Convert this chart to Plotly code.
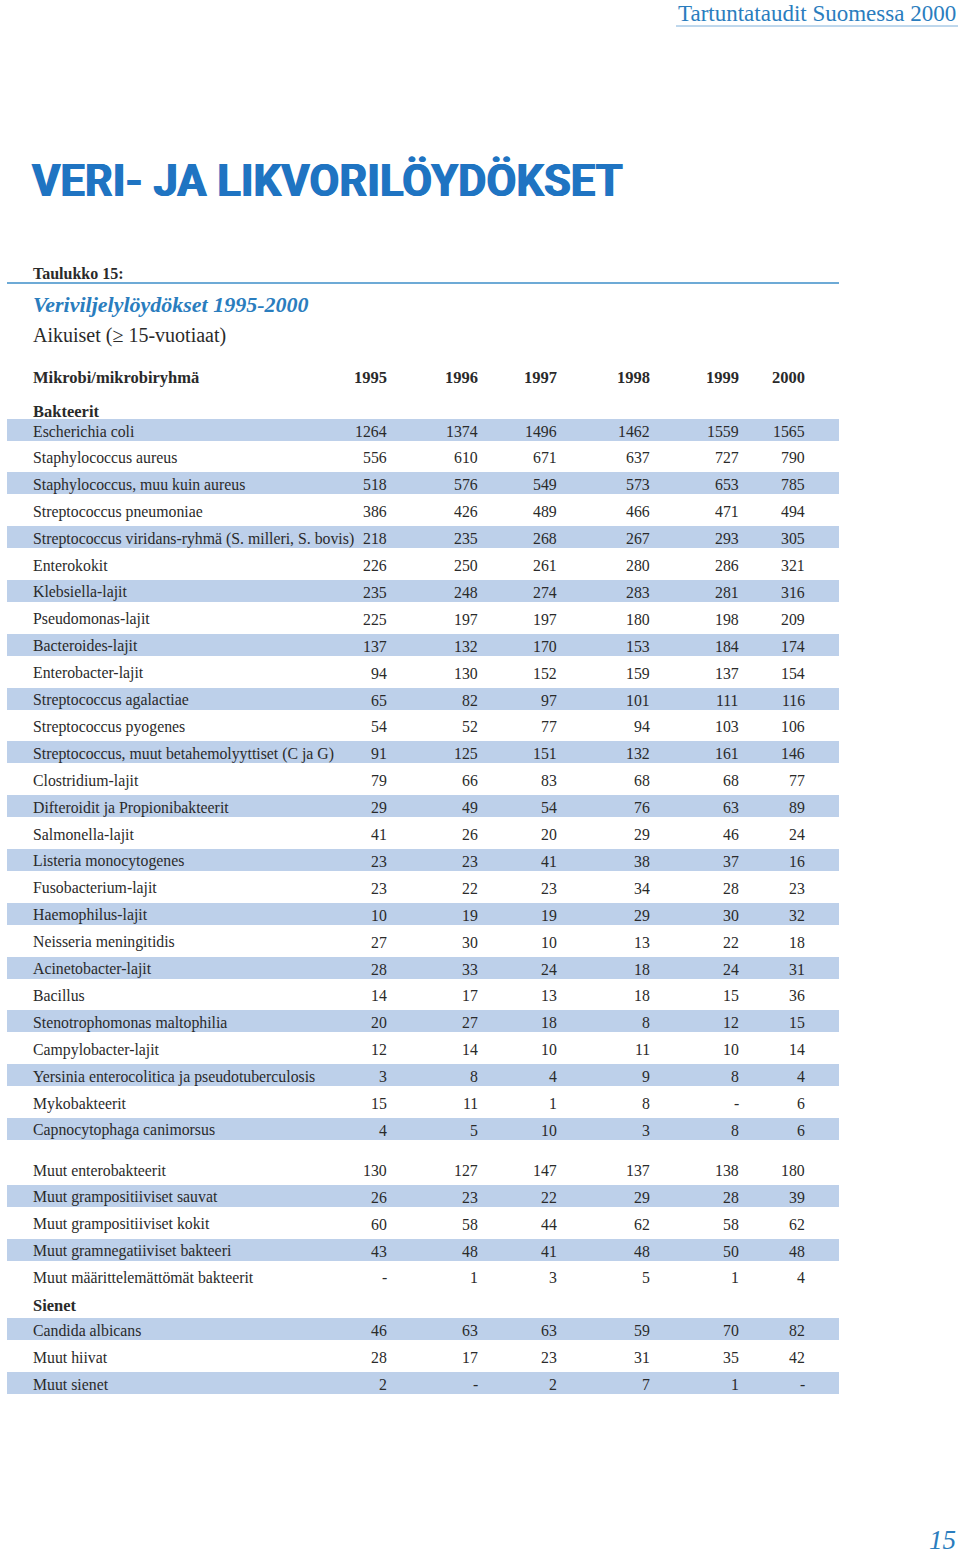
import plotly.graph_objects as go

# ---------------- data ----------------
years = ["1995", "1996", "1997", "1998", "1999", "2000"]

bacteria_main = [
    "Escherichia coli",
    "Staphylococcus aureus",
    "Staphylococcus, muu kuin aureus",
    "Streptococcus pneumoniae",
    "Streptococcus viridans-ryhmä (S. milleri, S. bovis)",
    "Enterokokit",
    "Klebsiella-lajit",
    "Pseudomonas-lajit",
    "Bacteroides-lajit",
    "Enterobacter-lajit",
    "Streptococcus agalactiae",
    "Streptococcus pyogenes",
    "Streptococcus, muut betahemolyyttiset (C ja G)",
    "Clostridium-lajit",
    "Difteroidit ja Propionibakteerit",
    "Salmonella-lajit",
    "Listeria monocytogenes",
    "Fusobacterium-lajit",
    "Haemophilus-lajit",
    "Neisseria meningitidis",
    "Acinetobacter-lajit",
    "Bacillus",
    "Stenotrophomonas maltophilia",
    "Campylobacter-lajit",
    "Yersinia enterocolitica ja pseudotuberculosis",
    "Mykobakteerit",
    "Capnocytophaga canimorsus",
]
main_1995 = [1264, 556, 518, 386, 218, 226, 235, 225, 137, 94, 65, 54, 91, 79, 29, 41, 23, 23, 10, 27, 28, 14, 20, 12, 3, 15, 4]
main_1996 = [1374, 610, 576, 426, 235, 250, 248, 197, 132, 130, 82, 52, 125, 66, 49, 26, 23, 22, 19, 30, 33, 17, 27, 14, 8, 11, 5]
main_1997 = [1496, 671, 549, 489, 268, 261, 274, 197, 170, 152, 97, 77, 151, 83, 54, 20, 41, 23, 19, 10, 24, 13, 18, 10, 4, 1, 10]
main_1998 = [1462, 637, 573, 466, 267, 280, 283, 180, 153, 159, 101, 94, 132, 68, 76, 29, 38, 34, 29, 13, 18, 18, 8, 11, 9, 8, 3]
main_1999 = [1559, 727, 653, 471, 293, 286, 281, 198, 184, 137, 111, 103, 161, 68, 63, 46, 37, 28, 30, 22, 24, 15, 12, 10, 8, None, 8]
main_2000 = [1565, 790, 785, 494, 305, 321, 316, 209, 174, 154, 116, 106, 146, 77, 89, 24, 16, 23, 32, 18, 31, 36, 15, 14, 4, 6, 6]

bacteria_other = [
    "Muut enterobakteerit",
    "Muut grampositiiviset sauvat",
    "Muut grampositiiviset kokit",
    "Muut gramnegatiiviset bakteeri",
    "Muut määrittelemättömät bakteerit",
]
other_1995 = [130, 26, 60, 43, None]
other_1996 = [127, 23, 58, 48, 1]
other_1997 = [147, 22, 44, 41, 3]
other_1998 = [137, 29, 62, 48, 5]
other_1999 = [138, 28, 58, 50, 1]
other_2000 = [180, 39, 62, 48, 4]

fungi = ["Candida albicans", "Muut hiivat", "Muut sienet"]
fungi_1995 = [46, 28, 2]
fungi_1996 = [63, 17, None]
fungi_1997 = [63, 23, 2]
fungi_1998 = [59, 31, 7]
fungi_1999 = [70, 35, 1]
fungi_2000 = [82, 42, None]

# ---------------- style / layout ----------------
PAGE_W, PAGE_H = 960, 1556
BLUE = "#1f74c2"
BLUE2 = "#2a7dbe"
BAND = "#bdd0ea"
TXT = "#2a2a2a"
SERIF = "Liberation Serif, DejaVu Serif, serif"
col_x = [388, 479, 558, 651, 740, 806]
label_x = 31
band_x0, band_x1 = 7, 839
pitch = 26.9
FS = 15.8
FSB = 16.5

def fmt(v):
    return "-" if v is None else str(v)

ann = []
shapes = []

def text(x, y, s, size=FS, anchor="left", bold=False, italic=False, color=TXT,
         family=SERIF, shadow=None):
    f = dict(family=family, size=size, color=color,
             weight="bold" if bold else "normal",
             style="italic" if italic else "normal")
    if shadow:
        f["shadow"] = shadow
    ann.append(dict(
        x=x, y=y, xref="x", yref="y", text=s, showarrow=False,
        xanchor=anchor, yanchor="middle", font=f,
    ))

rows = []
y = 431
main_vals = list(zip(main_1995, main_1996, main_1997, main_1998, main_1999, main_2000))
other_vals = list(zip(other_1995, other_1996, other_1997, other_1998, other_1999, other_2000))
fungi_vals = list(zip(fungi_1995, fungi_1996, fungi_1997, fungi_1998, fungi_1999, fungi_2000))

k = 0
for lab, vals in zip(bacteria_main, main_vals):
    rows.append((lab, vals, y, k % 2 == 0))
    y += pitch
    k += 1
y += 13
for lab, vals in zip(bacteria_other, other_vals):
    rows.append((lab, vals, y, k % 2 == 0))
    y += pitch
    k += 1
sienet_y = y + 0.6
y = sienet_y + 25.5
k = 0
for lab, vals in zip(fungi, fungi_vals):
    rows.append((lab, vals, y, k % 2 == 0))
    y += pitch
    k += 1

fig = go.Figure()

band_y = [r[2] - 1.5 for r in rows if r[3]]
fig.add_trace(go.Bar(
    orientation="h", y=band_y, x=[band_x1 - band_x0] * len(band_y), base=band_x0,
    width=22, marker=dict(color=BAND, line=dict(width=0)), hoverinfo="skip", showlegend=False,
))

for lab, vals, ry, _ in rows:
    text(label_x, ry, lab)
    for cx, v in zip(col_x, vals):
        text(cx + 1, ry, fmt(v), anchor="right")

text(label_x, 377, "Mikrobi/mikrobiryhmä", size=FSB, bold=True)
for cx, yr in zip(col_x, years):
    text(cx + 1, 377, yr, size=FSB, anchor="right", bold=True)
text(label_x, 411, "Bakteerit", size=FSB, bold=True)
text(label_x, sienet_y, "Sienet", size=FSB, bold=True)

text(label_x - 1, 181, "VERI- JA LIKVORILÖYDÖKSET", size=43.5, bold=True, color=BLUE,
     family="Liberation Sans Narrow, Roboto, Arial, sans-serif",
     shadow="0.7px 0 0 %s, -0.7px 0 0 %s" % (BLUE, BLUE))
text(label_x, 273, "Taulukko 15:", size=16, bold=True)
text(label_x, 304, "Veriviljelylöydökset 1995-2000", size=22, bold=True, italic=True, color=BLUE2)
text(label_x, 335, "Aikuiset (≥ 15-vuotiaat)", size=20)
text(958, 13, "Tartuntataudit Suomessa 2000", size=23, anchor="right", color=BLUE2)
text(958, 1540, "15", size=27, anchor="right", italic=True, color=BLUE2)

shapes.append(dict(type="line", xref="x", yref="y", x0=band_x0, x1=band_x1, y0=283, y1=283,
                   line=dict(color="#3d8ec9", width=1.5)))
shapes.append(dict(type="line", xref="x", yref="y", x0=676, x1=958, y0=26, y1=26,
                   line=dict(color="#7fb0da", width=1)))

fig.update_layout(
    width=PAGE_W, height=PAGE_H, margin=dict(l=0, r=0, t=0, b=0),
    paper_bgcolor="white", plot_bgcolor="white",
    xaxis=dict(range=[0, PAGE_W], visible=False, fixedrange=True),
    yaxis=dict(range=[PAGE_H, 0], visible=False, fixedrange=True),
    annotations=ann, shapes=shapes, bargap=0, showlegend=False,
)
fig.write_html(
    "out.html",
    config={"displayModeBar": False, "staticPlot": True},
    post_script="document.body.style.margin='0';document.body.style.overflow='hidden';",
)
